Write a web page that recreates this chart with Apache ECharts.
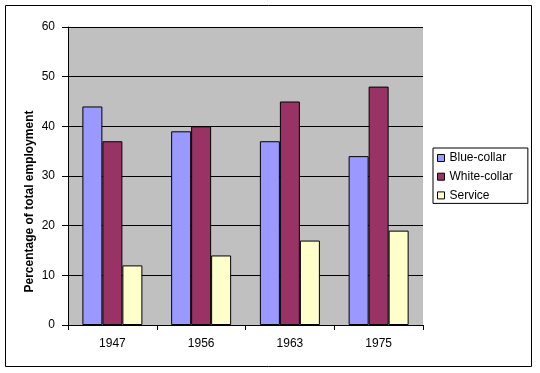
<!DOCTYPE html>
<html>
<head>
<meta charset="utf-8">
<script src="https://cdn.jsdelivr.net/npm/echarts@6/dist/echarts.min.js"></script>
<style>
html,body{margin:0;padding:0;background:#fff;}
#chart{width:540px;height:373px;}
</style>
</head>
<body>
<div id="chart"></div>
<script>
var categories = ['1947', '1956', '1963', '1975'];
var blueCollar = [44, 39, 37, 34];
var whiteCollar = [37, 40, 45, 48];
var service = [12, 14, 17, 19];
var yTicks = [0, 10, 20, 30, 40, 50, 60];
var seriesNames = ['Blue-collar', 'White-collar', 'Service'];
var yAxisTitle = 'Percentage of total employment';

var font = 'Liberation Sans, Arial, sans-serif';
var chart = echarts.init(document.getElementById('chart'));
var colors = ['#9999FF', '#993366', '#FFFFCC'];
var seriesData = [blueCollar, whiteCollar, service];

chart.setOption({
  animation: false,
  backgroundColor: '#ffffff',
  graphic: [
    {
      type: 'rect',
      shape: { x: 5.5, y: 5.5, width: 526, height: 361 },
      style: { fill: 'none', stroke: '#000', lineWidth: 1 },
      silent: true
    },
    {
      type: 'text',
      x: 30,
      y: 201.5,
      rotation: Math.PI / 2,
      style: {
        text: yAxisTitle,
        font: 'bold 12px ' + font,
        fill: '#000',
        align: 'center',
        verticalAlign: 'middle'
      }
    }
  ],
  grid: {
    left: 68, top: 27, right: 117, bottom: 48,
    show: true, backgroundColor: '#C0C0C0', borderWidth: 0
  },
  legend: {
    orient: 'vertical',
    left: 433, top: 148,
    data: seriesNames,
    itemWidth: 7, itemHeight: 7,
    itemGap: 4.7,
    itemTextGap: 5,
    icon: 'rect',
    padding: [3, 15, 1, 4],
    borderColor: '#000', borderWidth: 1,
    backgroundColor: '#fff',
    textStyle: { fontFamily: font, fontSize: 12, color: '#000', lineHeight: 14 },
    itemStyle: { borderColor: '#000', borderWidth: 1 }
  },
  xAxis: {
    type: 'category',
    data: categories,
    boundaryGap: true,
    axisLine: { show: true, lineStyle: { color: '#000', width: 1 } },
    axisTick: { show: true, length: 5, alignWithLabel: false, lineStyle: { color: '#000' } },
    axisLabel: { fontFamily: font, fontSize: 12, color: '#000', margin: 13 },
    splitLine: { show: false }
  },
  yAxis: {
    type: 'value',
    min: yTicks[0], max: yTicks[yTicks.length - 1], interval: 10,
    axisLine: { show: true, lineStyle: { color: '#000', width: 1 } },
    axisTick: { show: true, length: 6, lineStyle: { color: '#000' } },
    axisLabel: { fontFamily: font, fontSize: 12, color: '#000', margin: 13 },
    splitLine: { show: true, lineStyle: { color: '#000', width: 1 } }
  },
  series: seriesNames.map(function (name, i) {
    return {
      name: name,
      type: 'bar',
      data: seriesData[i],
      barWidth: 20,
      barGap: '0%',
      itemStyle: { color: colors[i], borderColor: '#000', borderWidth: 1 }
    };
  })
});
</script>
</body>
</html>
